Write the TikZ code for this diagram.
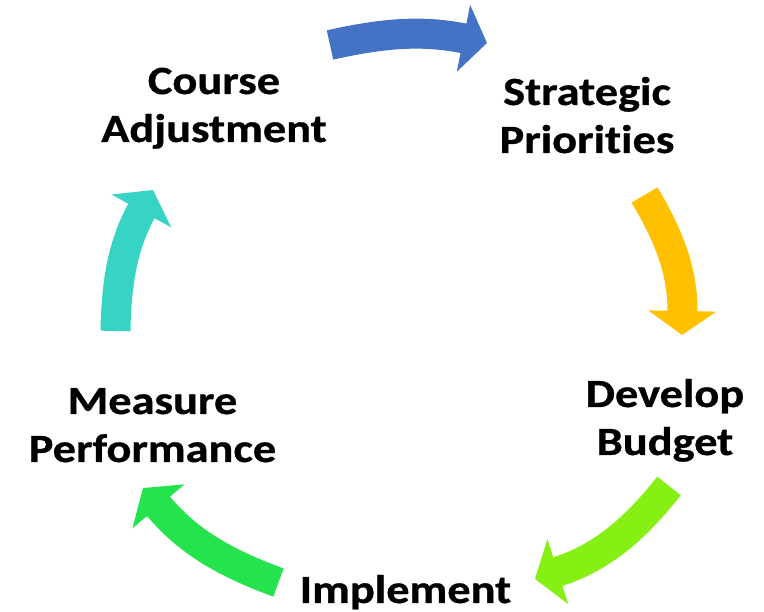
\documentclass[tikz,border=0pt]{standalone}
\usepackage{fontspec}
\setmainfont{Carlito}[FakeStretch=1.16,Ligatures=NoCommon,
  BoldFeatures={FakeBold=0.8}]
\usetikzlibrary{arrows.meta}

\definecolor{cycblue}{HTML}{4472C4}
\definecolor{cycgold}{HTML}{FFC000}
\definecolor{cyclime}{HTML}{86EF14}
\definecolor{cycgreen}{HTML}{24E34E}
\definecolor{cycteal}{HTML}{37D3C5}

\begin{document}
\begin{tikzpicture}
  [x=1pt,y=1pt,
   every node/.style={align=center,inner sep=0pt,anchor=base,
     font=\fontsize{40}{48}\selectfont\bfseries},
   cyc/.style={line width=30pt,-{Triangle[length=24pt,width=67pt]}}]
  \useasboundingbox (0,0) rectangle (764,612);

  % the five stages (base = last line)
  \node (n1) at (587,459) {Strategic\\Priorities};
  \node (n2) at (665,157) {Develop\\Budget};
  \node (n3) at (405.5,9) {Implement};
  \node (n4) at (152.5,150) {Measure\\Performance};
  \node (n5) at (214,470) {Course\\Adjustment};

  % arrow ends
  \coordinate (a1) at (330,567);   \coordinate (b1) at (487,569);
  \coordinate (a2) at (644.5,417); \coordinate (b2) at (682,277);
  \coordinate (a3) at (669,126);   \coordinate (b3) at (535,33);
  \coordinate (a4) at (278.5,29.5);\coordinate (b4) at (143,124);
  \coordinate (a5) at (115.5,281); \coordinate (b5) at (153,422);

  \draw[cyc,cycblue] (a1) to[bend left=12] (b1);
  \draw[cyc,cycgold] (a2) to[bend left=16] (b2);
  \draw[cyc,cyclime] (a3) to[bend left=17] (b3);
  \draw[cyc,cycgreen] (a4) to[bend left=15] (b4);
  \draw[cyc,cycteal] (a5) to[bend left=14] (b5);
\end{tikzpicture}
\end{document}
